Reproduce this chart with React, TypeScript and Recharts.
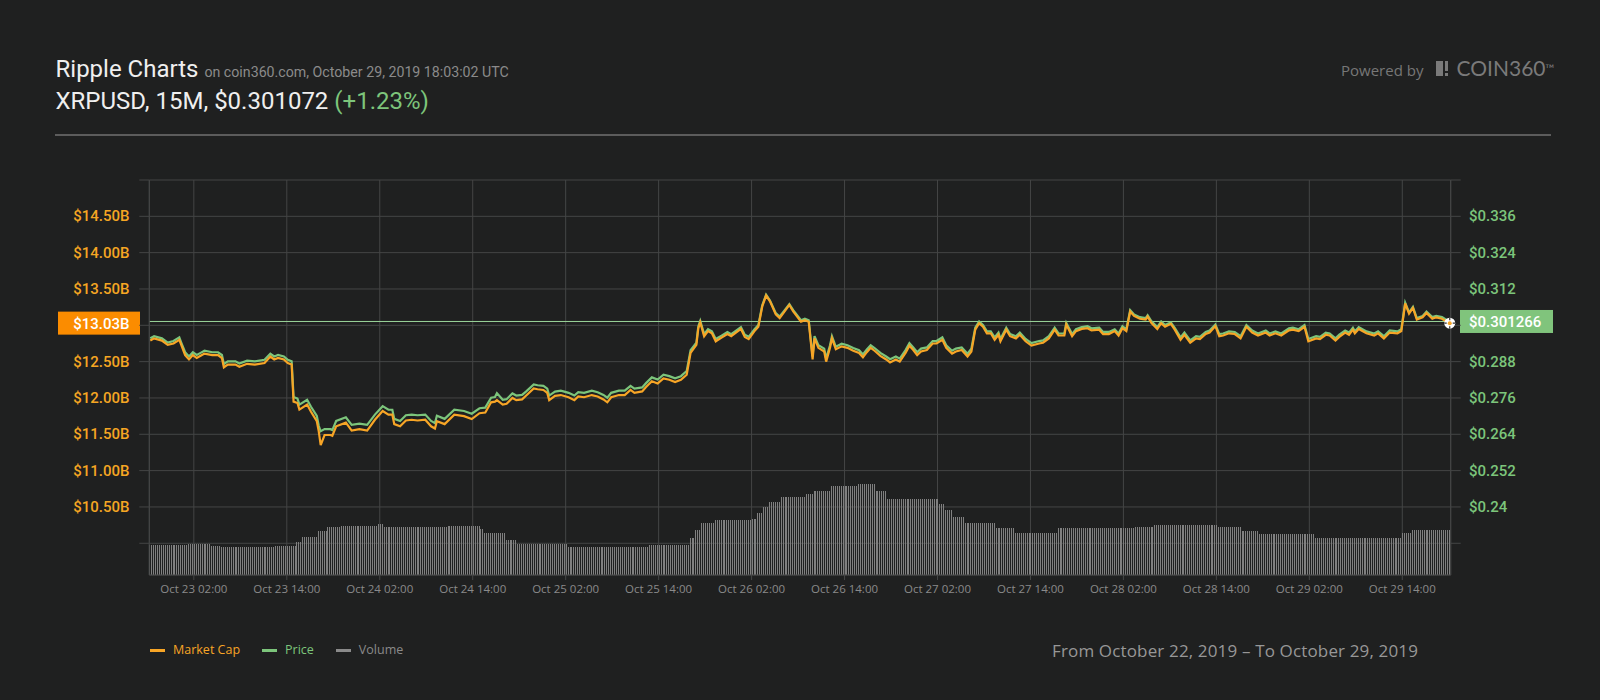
import { ComposedChart, Bar, Line, XAxis, YAxis, CartesianGrid, ReferenceLine } from 'recharts'

// x values are hours since Oct 22 20:15 (first 15M candle)
const xTicks = [5.75, 17.75, 29.75, 41.75, 53.75, 65.75, 77.75, 89.75, 101.75, 113.75, 125.75, 137.75, 149.75, 161.75]
const xTickLabels = [
  'Oct 23 02:00', 'Oct 23 14:00', 'Oct 24 02:00', 'Oct 24 14:00', 'Oct 25 02:00', 'Oct 25 14:00', 'Oct 26 02:00',
  'Oct 26 14:00', 'Oct 27 02:00', 'Oct 27 14:00', 'Oct 28 02:00', 'Oct 28 14:00', 'Oct 29 02:00', 'Oct 29 14:00',
]
const capTicks = [10, 10.5, 11, 11.5, 12, 12.5, 13, 13.5, 14, 14.5, 15]
const priceTicks = [0.228, 0.24, 0.252, 0.264, 0.276, 0.288, 0.3, 0.312, 0.324, 0.336, 0.348]

const lastMarketCap = 13.03
const lastPrice = 0.301266

// sampled points of the market cap / price lines (hours)
const lineHours = [
  0, 0.7, 1.6, 2.4, 3.1, 3.9, 4.2, 4.6, 5.2, 5.7, 6.1, 6.5, 7.2, 8.0, 8.9, 9.3, 9.6, 10.2, 11.0, 11.7,
  12.7, 13.6, 14.9, 15.5, 16.0, 16.6, 17.3, 17.9, 18.4, 18.6, 19.2, 19.4, 20.3, 20.9, 21.6, 21.9, 22.1, 22.7, 23.3, 23.7,
  24.2, 25.3, 26.1, 27.0, 28.0, 29.1, 30.0, 30.8, 31.4, 31.7, 32.3, 33.0, 33.8, 34.6, 35.5, 36.3, 36.8, 37.2, 38.1, 39.4,
  40.7, 41.5,
  42.7, 43.3, 44.0, 44.6, 44.9, 45.5, 46.1, 46.8, 47.4, 48.1, 48.7, 49.6, 50.2, 50.9, 51.3, 51.7, 52.4, 53.2, 54.1, 54.9,
  55.4, 56.2, 57.1, 57.9, 58.6, 59.2, 59.7, 60.5, 61.4, 62.1, 62.7, 63.6, 64.2, 64.9, 65.5, 66.4, 67.2, 67.9, 68.7, 69.4,
  69.8, 70.5, 70.9, 71.2, 71.5, 72.2, 72.6, 73.1, 73.9, 74.5, 75.2, 76.3, 76.9, 77.4, 78.0, 78.5, 79.0, 79.6, 80.1, 80.8,
  81.4, 81.8, 82.5, 83.1, 84.0,
  84.7, 85.2, 85.5, 85.9, 86.4, 87.0, 87.4, 87.9, 88.2, 88.7, 89.4, 90.0, 90.9, 91.5, 92.1, 92.6, 93.2, 93.7, 94.3, 95.0,
  95.6, 96.3, 96.9, 97.6, 98.0, 98.5, 99.1, 99.7, 100.4, 101.0, 101.6, 102.3, 102.9, 103.6, 104.2, 104.9, 105.7, 106.2, 106.5, 107.0,
  107.5, 108.1, 108.7, 109.1, 109.5, 109.9, 110.6, 111.1, 111.8, 112.4, 113.0, 113.9, 114.8, 115.4, 116.1, 116.8, 117.3, 118.0, 118.3, 119.1,
  119.7, 120.4, 121.0, 121.6, 122.5, 123.2, 123.8, 124.5, 125.1, 125.5, 126.0, 126.6,
  127.2, 127.9, 128.5, 128.9, 129.4, 130.0, 130.6, 131.1, 131.8, 132.4, 133.1, 133.7, 134.4, 135.0, 135.6, 136.3, 136.8, 137.6, 138.0, 138.7,
  139.3, 140.2, 140.8, 141.6, 142.3, 143.0, 144.0, 144.7, 145.3, 146.2, 147.0, 147.7, 148.3, 149.1, 149.7, 150.5, 151.1, 151.8, 152.4, 153.1,
  153.7, 154.4, 154.8, 155.3, 155.7, 156.1, 157.0, 158.0, 158.7, 159.3, 160.2, 161.2, 161.6, 162.0, 162.5, 163.1, 163.7, 164.3, 164.9, 165.5,
  166.0, 166.8, 167.7, 167.9,
]

// market cap, $B
const marketCap = [
  12.79, 12.82, 12.79, 12.73, 12.75, 12.80, 12.73, 12.59, 12.53, 12.59, 12.55, 12.58, 12.61, 12.59, 12.59, 12.55, 12.42, 12.46, 12.46, 12.43,
  12.47, 12.46, 12.48, 12.57, 12.53, 12.55, 12.53, 12.48, 12.46, 11.95, 11.93, 11.84, 11.91, 11.81, 11.68, 11.54, 11.35, 11.49, 11.49, 11.48,
  11.61, 11.66, 11.55, 11.57, 11.55, 11.70, 11.82, 11.77, 11.77, 11.64, 11.61, 11.69, 11.70, 11.69, 11.70, 11.61, 11.58, 11.68, 11.64, 11.77,
  11.75, 11.71,
  11.79, 11.80, 11.94, 11.95, 11.97, 11.91, 11.92, 12.00, 11.97, 11.98, 12.03, 12.13, 12.12, 12.11, 12.07, 11.97, 12.03, 12.04, 12.01, 11.97,
  12.02, 12.01, 12.04, 12.02, 11.98, 11.94, 12.01, 12.04, 12.04, 12.11, 12.07, 12.09, 12.15, 12.23, 12.20, 12.27, 12.25, 12.22, 12.25, 12.32,
  12.62, 12.73, 12.96, 13.04, 12.85, 12.92, 12.89, 12.78, 12.83, 12.88, 12.85, 12.95, 12.84, 12.81, 12.92, 12.98, 13.26, 13.41, 13.33, 13.15,
  13.10, 13.17, 13.28, 13.19, 13.05,
  13.07, 13.05, 12.53, 12.82, 12.69, 12.64, 12.50, 12.69, 12.82, 12.67, 12.71, 12.69, 12.65, 12.62, 12.56, 12.63, 12.69, 12.65, 12.58, 12.53,
  12.49, 12.53, 12.50, 12.62, 12.72, 12.66, 12.59, 12.64, 12.66, 12.75, 12.75, 12.80, 12.69, 12.61, 12.64, 12.66, 12.57, 12.64, 12.94, 13.03,
  12.98, 12.89, 12.89, 12.80, 12.87, 12.78, 12.94, 12.85, 12.82, 12.87, 12.78, 12.72, 12.75, 12.76, 12.82, 12.94, 12.86, 12.86, 13.01, 12.85,
  12.92, 12.95, 12.96, 12.93, 12.94, 12.88, 12.88, 12.92, 12.86, 12.96, 12.92, 13.19,
  13.13, 13.09, 13.08, 13.12, 13.03, 12.95, 13.03, 12.98, 13.02, 12.94, 12.80, 12.87, 12.76, 12.82, 12.81, 12.88, 12.90, 12.99, 12.85, 12.86,
  12.89, 12.88, 12.82, 12.98, 12.90, 12.86, 12.90, 12.86, 12.89, 12.86, 12.93, 12.94, 12.92, 12.98, 12.78, 12.82, 12.81, 12.87, 12.86, 12.79,
  12.84, 12.90, 12.87, 12.94, 12.89, 12.95, 12.89, 12.86, 12.89, 12.82, 12.90, 12.89, 12.92, 13.30, 13.16, 13.24, 13.08, 13.11, 13.17, 13.09,
  13.11, 13.09, 13.04, 13.03,
]

// price, USD
const price = [
  0.2957, 0.2964, 0.2957, 0.2943, 0.2948, 0.2960, 0.2943, 0.2911, 0.2897, 0.2911, 0.2902, 0.2909, 0.2916, 0.2911, 0.2911, 0.2902, 0.2872, 0.2881, 0.2881, 0.2874,
  0.2883, 0.2881, 0.2886, 0.2906, 0.2897, 0.2902, 0.2897, 0.2886, 0.2881, 0.2763, 0.2758, 0.2738, 0.2754, 0.2731, 0.2701, 0.2668, 0.2650, 0.2657, 0.2657, 0.2654,
  0.2684, 0.2696, 0.2671, 0.2675, 0.2671, 0.2705, 0.2733, 0.2721, 0.2721, 0.2691, 0.2684, 0.2703, 0.2705, 0.2703, 0.2705, 0.2684, 0.2677, 0.2701, 0.2691, 0.2721,
  0.2717, 0.2708,
  0.2726, 0.2728, 0.2761, 0.2763, 0.2776, 0.2754, 0.2756, 0.2775, 0.2768, 0.2770, 0.2781, 0.2805, 0.2802, 0.2800, 0.2791, 0.2768, 0.2781, 0.2784, 0.2777, 0.2768,
  0.2779, 0.2777, 0.2784, 0.2779, 0.2770, 0.2761, 0.2777, 0.2784, 0.2784, 0.2800, 0.2791, 0.2795, 0.2809, 0.2828, 0.2821, 0.2837, 0.2832, 0.2825, 0.2832, 0.2849,
  0.2918, 0.2943, 0.2997, 0.3015, 0.2971, 0.2987, 0.2980, 0.2955, 0.2966, 0.2978, 0.2971, 0.2994, 0.2969, 0.2962, 0.2987, 0.3001, 0.3066, 0.3101, 0.3082, 0.3040,
  0.3029, 0.3045, 0.3070, 0.3050, 0.3017,
  0.3022, 0.3017, 0.2897, 0.2964, 0.2934, 0.2923, 0.2890, 0.2934, 0.2964, 0.2929, 0.2939, 0.2934, 0.2925, 0.2918, 0.2904, 0.2920, 0.2934, 0.2925, 0.2909, 0.2897,
  0.2888, 0.2897, 0.2890, 0.2918, 0.2941, 0.2927, 0.2911, 0.2923, 0.2927, 0.2948, 0.2948, 0.2960, 0.2934, 0.2916, 0.2923, 0.2927, 0.2906, 0.2923, 0.2992, 0.3013,
  0.3001, 0.2980, 0.2980, 0.2960, 0.2976, 0.2955, 0.2992, 0.2971, 0.2964, 0.2976, 0.2955, 0.2941, 0.2948, 0.2950, 0.2964, 0.2992, 0.2973, 0.2973, 0.3008, 0.2971,
  0.2987, 0.2994, 0.2997, 0.2990, 0.2992, 0.2978, 0.2978, 0.2987, 0.2973, 0.2997, 0.2987, 0.3050,
  0.3036, 0.3027, 0.3024, 0.3033, 0.3013, 0.2994, 0.3013, 0.3001, 0.3010, 0.2992, 0.2960, 0.2976, 0.2950, 0.2964, 0.2962, 0.2978, 0.2983, 0.3003, 0.2971, 0.2973,
  0.2980, 0.2978, 0.2964, 0.3001, 0.2983, 0.2973, 0.2983, 0.2973, 0.2980, 0.2973, 0.2990, 0.2992, 0.2987, 0.3001, 0.2955, 0.2964, 0.2962, 0.2976, 0.2973, 0.2957,
  0.2969, 0.2983, 0.2976, 0.2992, 0.2980, 0.2994, 0.2980, 0.2973, 0.2980, 0.2964, 0.2983, 0.2980, 0.2987, 0.3075, 0.3043, 0.3061, 0.3024, 0.3031, 0.3045, 0.3027,
  0.3031, 0.3027, 0.3015, 0.301266,
]

// volume ($B) is flat over long stretches: number of 15M bars per step, then its level
const volumeRunLengths = [
  20, 12, 5, 28, 11, 3, 8, 5, 7, 19, 3, 19, 14, 17, 2, 11, 6, 26, 42, 21, 3, 3, 7, 19, 3,
  3, 3, 6, 13, 4, 9, 14, 9, 6, 27, 3, 4, 6, 16, 10, 22, 40, 10, 33, 12, 9, 29, 45, 5, 20,
]
const volumeLevels = [
  0.76, 0.79, 0.74, 0.72, 0.73, 0.84, 0.97, 1.12, 1.21, 1.24, 1.28, 1.22, 1.21, 1.24, 1.16, 1.06, 0.89, 0.78, 0.72, 0.76, 0.93, 1.15, 1.31, 1.39, 1.43,
  1.58, 1.72, 1.86, 1.98, 2.04, 2.13, 2.25, 2.30, 2.13, 1.92, 1.81, 1.65, 1.48, 1.32, 1.18, 1.07, 1.18, 1.22, 1.27, 1.21, 1.12, 1.03, 0.93, 1.06, 1.14,
]

const legendItems = [
  { label: 'Market Cap', color: '#f7a526' },
  { label: 'Price', color: '#7cc57b' },
  { label: 'Volume', color: '#8a8a8a' },
]

interface Row {
  t: number
  vol: number
  cap: number | null
  price: number | null
}

const rows: Row[] = []
volumeRunLengths.forEach((n, i) => {
  for (let j = 0; j < n; j++) {
    rows.push({ t: rows.length * 0.25 + 0.125, vol: volumeLevels[i], cap: null, price: null })
  }
})
lineHours.forEach((h, i) => {
  const k = Math.min(rows.length - 1, Math.max(0, Math.round((h - 0.125) / 0.25)))
  rows[k].cap = marketCap[i]
  rows[k].price = price[i]
})
const lastIndex = rows.length - 1

const GRID = '#444545'
const BG = '#1f2020'
const ORANGE = '#f7a526'
const GREEN = '#7cc57b'

function CapTick(props: any) {
  const { x, y, payload } = props
  const v = payload.value as number
  if (v < 10.25 || v > 14.75 || Math.abs(v - 13) < 0.01) return <g />
  return (
    <text x={x - 64} y={y} dy={5} textAnchor="start" fill="#f5a623" fontSize={15} fontWeight={500} fontFamily="Roboto, sans-serif">
      {`$${v.toFixed(2)}B`}
    </text>
  )
}

function PriceTick(props: any) {
  const { x, y, payload } = props
  const v = payload.value as number
  if (v < 0.235 || v > 0.34 || Math.abs(v - 0.3) < 0.001) return <g />
  return (
    <text x={x + 6.3} y={y} dy={5} textAnchor="start" fill={GREEN} fontSize={15} fontWeight={500} fontFamily="Roboto, sans-serif">
      {`$${+v.toFixed(3)}`}
    </text>
  )
}

function CapBadge(props: any) {
  const { x, y } = props.viewBox
  return (
    <g>
      <rect x={x - 91.3} y={y - 11.5} width={82} height={23} fill="#fb8c00" />
      <text x={x - 76} y={y + 5.5} fill="#fff" fontSize={15} fontWeight={500} fontFamily="Roboto, sans-serif">
        {`$${lastMarketCap.toFixed(2)}B`}
      </text>
    </g>
  )
}

function PriceBadge(props: any) {
  const { x, y, width } = props.viewBox
  return (
    <g>
      <rect x={x + width + 9.3} y={y - 11.5} width={93} height={23} fill="#80c47c" />
      <text x={x + width + 18.3} y={y + 5.5} fill="#fff" fontSize={15} fontWeight={500} fontFamily="Roboto, sans-serif">
        {`$${lastPrice}`}
      </text>
    </g>
  )
}

function VolumeBar(props: any) {
  const { x, y, width, height } = props
  if (!height || height <= 0) return <g />
  return <rect x={x} y={y} width={width} height={height} fill="#808080" shapeRendering="crispEdges" />
}

function LastDot(props: any) {
  const { cx, cy, index } = props
  if (index !== lastIndex || cx == null || cy == null) return <g key={`dot-${index}`} />
  return (
    <g key="last-dot">
      <circle cx={cx} cy={cy} r={5.5} fill="#fff" />
      <path
        d={`M${cx - 5.5},${cy}h2.5M${cx + 3},${cy}h2.5M${cx},${cy - 5.5}v2.5M${cx},${cy + 3}v2.5`}
        stroke="#333"
        strokeWidth={1.2}
      />
      <circle cx={cx} cy={cy} r={2} fill={ORANGE} />
    </g>
  )
}

export default function App() {
  return (
    <div style={{ position: 'absolute', left: 0, top: 0, width: 1600, height: 700, background: BG, overflow: 'hidden' }}>
      <ComposedChart width={1600} height={700} data={rows} margin={{ top: 180, right: 49.3, bottom: 95, left: 69.3 }}>
        <CartesianGrid yAxisId="cap" stroke={GRID} />
        <XAxis
          dataKey="t"
          type="number"
          domain={[0, 168]}
          ticks={xTicks}
          interval={0}
          tickFormatter={(v: number) => xTickLabels[xTicks.indexOf(v)] ?? ''}
          height={30}
          tickSize={5}
          tickMargin={5}
          axisLine={{ stroke: GRID }}
          tickLine={{ stroke: GRID }}
          tick={{ fill: '#8a8a8a', fontSize: 11.5, fontFamily: '"Open Sans", sans-serif' }}
        />
        <YAxis
          yAxisId="cap"
          domain={[9.5634, 15]}
          ticks={capTicks}
          interval={0}
          width={80}
          tickSize={10}
          tickMargin={2}
          axisLine={{ stroke: GRID }}
          tickLine={{ stroke: GRID }}
          tick={<CapTick />}
        />
        <YAxis
          yAxisId="price"
          orientation="right"
          domain={[0.217522, 0.348]}
          ticks={priceTicks}
          interval={0}
          width={100}
          tickSize={10}
          tickMargin={2}
          axisLine={{ stroke: GRID }}
          tickLine={{ stroke: GRID }}
          tick={<PriceTick />}
        />
        <YAxis yAxisId="vol" hide domain={[0, 10]} />
        <Bar dataKey="vol" yAxisId="vol" fill="#808080" barSize={1} shape={<VolumeBar />} isAnimationActive={false} />
        <ReferenceLine y={lastPrice} yAxisId="price" stroke="#9bd49a" strokeWidth={1} label={<PriceBadge />} />
        <ReferenceLine y={lastMarketCap} yAxisId="cap" stroke="none" label={<CapBadge />} />
        <Line
          dataKey="price"
          yAxisId="price"
          type="linear"
          stroke={GREEN}
          strokeWidth={2.2}
          dot={false}
          connectNulls
          isAnimationActive={false}
        />
        <Line
          dataKey="cap"
          yAxisId="cap"
          type="linear"
          stroke={ORANGE}
          strokeWidth={2.2}
          dot={<LastDot />}
          activeDot={false}
          connectNulls
          isAnimationActive={false}
        />
      </ComposedChart>

      {/* header */}
      <div style={{ position: 'absolute', left: 55.5, top: 56.5, fontFamily: 'Roboto, sans-serif', fontSize: 24, lineHeight: '24px', color: '#efefef', whiteSpace: 'nowrap' }}>
        Ripple Charts <span style={{ fontSize: 14.2, color: '#8b8b8b' }}>on coin360.com, October 29, 2019 18:03:02 UTC</span>
      </div>
      <div style={{ position: 'absolute', left: 55.5, top: 89.1, fontFamily: 'Roboto, sans-serif', fontSize: 24, lineHeight: '24px', color: '#efefef', whiteSpace: 'nowrap' }}>
        XRPUSD, 15M, $0.301072 <span style={{ color: '#7dc57b' }}>(+1.23%)</span>
      </div>
      <div style={{ position: 'absolute', left: 55, top: 133.5, width: 1496, height: 2, background: '#5c5c5c' }} />

      {/* powered by */}
      <div style={{ position: 'absolute', left: 1341, top: 62.7, fontFamily: '"Open Sans", sans-serif', fontSize: 15, lineHeight: '15px', color: '#777', whiteSpace: 'nowrap' }}>
        Powered by
      </div>
      <div style={{ position: 'absolute', left: 1436, top: 61, width: 7, height: 15, background: '#7a7a7a' }} />
      <div style={{ position: 'absolute', left: 1444.5, top: 61, width: 3, height: 10, background: '#7a7a7a' }} />
      <div style={{ position: 'absolute', left: 1444.5, top: 73, width: 3, height: 3, background: '#7a7a7a' }} />
      <div style={{ position: 'absolute', left: 1456.5, top: 57.4, fontFamily: 'Lato, sans-serif', fontSize: 21, lineHeight: '21px', color: '#7a7a7a', whiteSpace: 'nowrap' }}>
        COIN360<span style={{ fontSize: 12, verticalAlign: 'top', position: 'relative', top: 1 }}>™</span>
      </div>

      {/* legend */}
      <div style={{ position: 'absolute', left: 150, top: 644.2, display: 'flex', alignItems: 'center', fontFamily: '"Open Sans", sans-serif', fontSize: 12.5, lineHeight: '12.5px' }}>
        {legendItems.map(item => (
          <div key={item.label} style={{ display: 'flex', alignItems: 'center', marginRight: 22 }}>
            <span style={{ width: 15, height: 3, background: item.color, marginRight: 8 }} />
            <span style={{ color: item.color }}>{item.label}</span>
          </div>
        ))}
      </div>

      {/* date range */}
      <div style={{ position: 'absolute', left: 1052, top: 641.5, fontFamily: '"Open Sans", sans-serif', fontSize: 17, lineHeight: '17px', letterSpacing: 0.15, color: '#979797', whiteSpace: 'nowrap' }}>
        From October 22, 2019 – To October 29, 2019
      </div>
    </div>
  )
}
